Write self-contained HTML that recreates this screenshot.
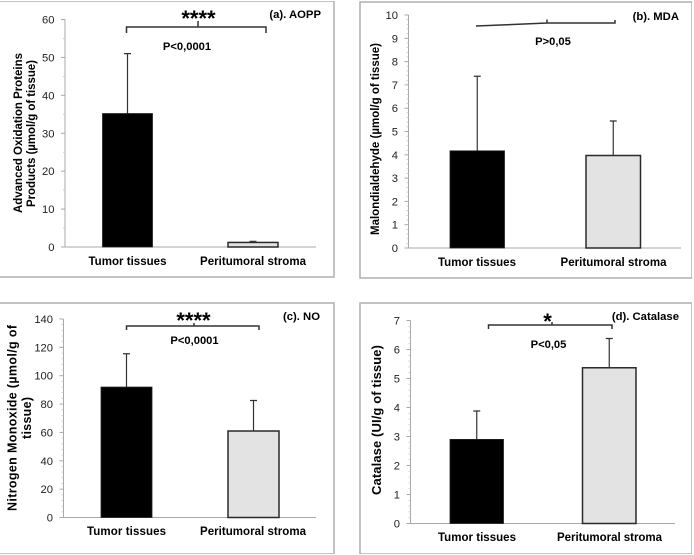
<!DOCTYPE html>
<html>
<head>
<meta charset="utf-8">
<style>
html,body{margin:0;padding:0;background:#fff;width:694px;height:555px;overflow:hidden}
svg{display:block;font-family:"Liberation Sans",sans-serif}
</style>
</head>
<body>
<svg id="figure" width="694" height="555" viewBox="0 0 694 555" xmlns="http://www.w3.org/2000/svg">
<defs><filter id="soft" x="0" y="0" width="100%" height="100%"><feGaussianBlur stdDeviation="0.3"/></filter></defs>
<g id="root" filter="url(#soft)"></g>
</svg>
<script>
var categories = ["Tumor tissues", "Peritumoral stroma"];

var aoppMeans = [35.2, 1.2];
var aoppUpper = [51, 1.5];
var aoppTicks = [0, 10, 20, 30, 40, 50, 60];

var mdaMeans = [4.17, 3.97];
var mdaUpper = [7.37, 5.45];
var mdaTicks = [0, 1, 2, 3, 4, 5, 6, 7, 8, 9, 10];

var noMeans = [92, 61];
var noUpper = [115.5, 82.5];
var noTicks = [0, 20, 40, 60, 80, 100, 120, 140];

var catalaseMeans = [2.9, 5.37];
var catalaseUpper = [3.88, 6.38];
var catalaseTicks = [0, 1, 2, 3, 4, 5, 6, 7];

var NS = "http://www.w3.org/2000/svg";
var root = document.getElementById("root");

function add(parent, tag, attrs, text) {
  var el = document.createElementNS(NS, tag);
  for (var k in attrs) { el.setAttribute(k, attrs[k]); }
  if (text !== undefined) { el.textContent = text; }
  parent.appendChild(el);
  return el;
}

function drawPanel(p) {
  var g = add(root, "g", {});
  
  

  var frame = add(g, "rect", {x: p.frame[0], y: p.frame[1], width: p.frame[2] - p.frame[0], height: p.frame[3] - p.frame[1], fill: "#fff", stroke: "#b4b4b4", "stroke-width": 1.6});
  
  

  var maxTick = p.ticks[p.ticks.length - 1];
  function y(v) { return p.y0 - (v / maxTick) * (p.y0 - p.yTop); }

  var yAxis = add(g, "line", {x1: p.axisX, x2: p.axisX, y1: p.yTop, y2: p.y0, stroke: "#a8a8a8", "stroke-width": 1});
  
  
  var xAxis = add(g, "line", {x1: p.axisX - 4, x2: p.axisEnd, y1: p.y0, y2: p.y0, stroke: "#a8a8a8", "stroke-width": 1});
  
  

  p.ticks.forEach(function (t, i) {
    var major = add(g, "line", {x1: p.axisX - 4, x2: p.axisX, y1: y(t), y2: y(t), stroke: "#a8a8a8", "stroke-width": 1});
    
    
    var label = add(g, "text", {x: p.axisX - 10.5, y: y(t) + 4, "text-anchor": "end", "font-size": 11.2, fill: "#222"}, String(t));
    
    
    if (i < p.ticks.length - 1) {
      var step = (p.ticks[i + 1] - t) / p.minor;
      for (var m = 1; m < p.minor; m++) {
        var minor = add(g, "line", {x1: p.axisX - 2, x2: p.axisX, y1: y(t + step * m), y2: y(t + step * m), stroke: "#c4c4c4", "stroke-width": 0.8});
        
        
      }
    }
  });

  p.means.forEach(function (v, i) {
    var left = p.barX[i], w = p.barW, cx = left + w / 2;
    var err = add(g, "path", {d: "M" + cx + " " + y(v) + "V" + y(p.upper[i]) + "M" + (cx - 3.5) + " " + y(p.upper[i]) + "H" + (cx + 3.5), stroke: "#333", "stroke-width": 1.2, fill: "none"});
    
    
    var bar = add(g, "rect", {x: left, y: y(v), width: w, height: p.y0 - y(v), fill: i === 0 ? "#000" : "#e3e3e3", stroke: i === 0 ? "#222" : "#2a2a2a", "stroke-width": i === 0 ? 0.8 : 1.5});
    
    
    var cat = add(g, "text", {x: p.catX[i], y: p.catY, "text-anchor": "middle", "font-size": 11.5, "font-weight": "bold", fill: "#000", textLength: p.catW[i], lengthAdjust: "spacing"}, categories[i]);
    
    
  });

  p.yTitle.forEach(function (line) {
    var t = add(g, "text", {transform: "translate(" + line.x + "," + line.y + ") rotate(-90)", "text-anchor": "middle", "font-size": line.size, "font-weight": "bold", fill: "#000", textLength: line.w, lengthAdjust: "spacing"}, line.s);
    
    
  });

  var title = add(g, "text", {x: p.title[1], y: p.title[2], "text-anchor": "end", "font-size": 11.3, "font-weight": "bold", fill: "#000"}, p.title[0]);
  
  

  var br = add(g, "path", {d: p.bracket, fill: "none", stroke: "#333", "stroke-width": 1.5});
  
  

  if (p.stars) {
    var st = add(g, "text", {x: p.stars[1], y: p.stars[2], "text-anchor": "middle", "font-size": p.stars[3], "font-weight": "bold", fill: "#000"}, p.stars[0]);
    
    
  }

  var pv = add(g, "text", {x: p.pval[1], y: p.pval[2], "text-anchor": "middle", "font-size": 11.2, "font-weight": "bold", fill: "#000"}, p.pval[0]);
  
  
}

drawPanel({
  name: "panel-a-aopp", frame: [-1, 1, 334, 277], ticks: aoppTicks, means: aoppMeans, upper: aoppUpper, minor: 2,
  axisX: 65, axisEnd: 316, y0: 247, yTop: 19.5, barX: [102.5, 228], barW: 50, catX: [127.5, 253], catY: 265, catW: [78, 106],
  yTitle: [{s: "Advanced Oxidation  Proteins", x: 22, y: 133, size: 11.5, w: 160}, {s: "Products (µmol/g of tissue)", x: 35, y: 133.5, size: 11.5, w: 147}],
  title: ["(a). AOPP", 321, 18], bracket: "M126.5 33V27H266V33M198 27V21",
  stars: ["****", 198.5, 26, 22], pval: ["P<0,0001", 187, 50]
});
drawPanel({
  name: "panel-b-mda", frame: [360, 2, 692, 278], ticks: mdaTicks, means: mdaMeans, upper: mdaUpper, minor: 5,
  axisX: 408.5, axisEnd: 681, y0: 248, yTop: 15, barX: [450, 586], barW: 54.5, catX: [477, 613.5], catY: 266, catW: [78, 106],
  yTitle: [{s: "Malondialdehyde (µmol/g of tissue)", x: 379, y: 139, size: 11.5, w: 192}],
  title: ["(b). MDA", 679, 20], bracket: "M476 26L547 23H615V20M547 23V19.5",
  pval: ["P>0,05", 553, 45]
});
drawPanel({
  name: "panel-c-no", frame: [-1, 303, 334, 554], ticks: noTicks, means: noMeans, upper: noUpper, minor: 5,
  axisX: 63.5, axisEnd: 316, y0: 517.5, yTop: 319, barX: [101, 228], barW: 51, catX: [126.5, 253], catY: 535, catW: [79, 106],
  yTitle: [{s: "Nitrogen Monoxide (µmol/g of", x: 16.5, y: 418, size: 12.5, w: 186}, {s: "tissue)", x: 31, y: 418, size: 12.5, w: 42}],
  title: ["(c). NO", 320, 320], bracket: "M126.5 330V326H259V330M194 326V323",
  stars: ["****", 193.5, 328, 22], pval: ["P<0,0001", 194.5, 344]
});
drawPanel({
  name: "panel-d-catalase", frame: [360, 303, 692, 554], ticks: catalaseTicks, means: catalaseMeans, upper: catalaseUpper, minor: 5,
  axisX: 410.5, axisEnd: 675, y0: 523.5, yTop: 320.5, barX: [450, 582.5], barW: 53.5, catX: [477, 609.5], catY: 541, catW: [78, 105],
  yTitle: [{s: "Catalase (UI/g of tissue)", x: 381, y: 420, size: 13, w: 150}],
  title: ["(d). Catalase", 679, 320], bracket: "M488.5 329V325H612V329M552 325V322",
  stars: ["*", 547.5, 329, 22], pval: ["P<0,05", 548.5, 348]
});
</script>
</body>
</html>
